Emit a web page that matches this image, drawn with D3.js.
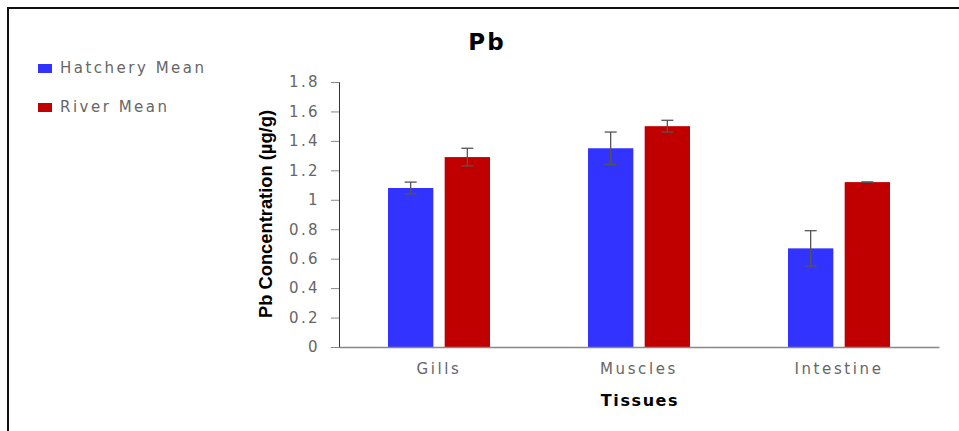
<!DOCTYPE html>
<html>
<head>
<meta charset="utf-8">
<script src="https://cdn.jsdelivr.net/npm/d3@7"></script>
<style>
  body { margin: 0; background: #fff; }
  svg { display: block; }
</style>
</head>
<body>
<script>

// data
var tissues = ["Gills", "Muscles", "Intestine"];
var series = ["Hatchery Mean", "River Mean"];
var hatchery = [1.08, 1.35, 0.67];
var river = [1.29, 1.50, 1.12];
var hatcheryErr = [0.04, 0.11, 0.12];
var riverErr = [0.06, 0.04, 0.0];
var colors = ["#3333ff", "#c00000"];

var width = 959, height = 431;

var svg = d3.select("body").append("svg")
  .attr("width", width)
  .attr("height", height);

// frame (top and left edges only)
svg.append("line").attr("x1", 8).attr("x2", width).attr("y1", 8).attr("y2", 8)
  .attr("stroke", "#111").attr("stroke-width", 2);
svg.append("line").attr("x1", 8).attr("x2", 8).attr("y1", 7).attr("y2", height)
  .attr("stroke", "#111").attr("stroke-width", 2);

var x = d3.scaleBand().domain(tissues).range([339, 939]);
var xs = d3.scaleBand().domain(series)
  .range([x.bandwidth() / 2 - 51, x.bandwidth() / 2 + 51])
  .paddingInner(0.2);
var y = d3.scaleLinear().domain([0, 1.8]).range([347, 82]);

var rows = tissues.map(function(t, i) {
  return [
    { tissue: t, s: series[0], v: hatchery[i], e: hatcheryErr[i], c: colors[0] },
    { tissue: t, s: series[1], v: river[i], e: riverErr[i], c: colors[1] }
  ];
});

// y axis
var yAxis = svg.append("g")
  .attr("transform", "translate(339,0)")
  .call(d3.axisLeft(y).ticks(9).tickSize(8).tickPadding(11)
    .tickFormat(function(d) { return String(+d.toFixed(1)); }));
yAxis.select(".domain").attr("stroke", "#333");
yAxis.selectAll(".tick line").attr("stroke", "#888");
yAxis.selectAll("text")
  .attr("fill", "#666")
  .style("font-family", "DejaVu Sans")
  .style("font-size", "15px")
  .style("letter-spacing", "2.4px");

// bars
var groups = svg.selectAll(".grp").data(rows).enter().append("g")
  .attr("class", "grp")
  .attr("transform", function(d) { return "translate(" + x(d[0].tissue) + ",0)"; });

groups.selectAll("rect").data(function(d) { return d; }).enter().append("rect")
  .attr("x", function(d) { return xs(d.s); })
  .attr("width", xs.bandwidth())
  .attr("y", function(d) { return y(d.v); })
  .attr("height", function(d) { return y(0) - y(d.v); })
  .attr("fill", function(d) { return d.c; });

// error bars
var err = groups.selectAll(".err").data(function(d) { return d; }).enter().append("g")
  .attr("class", "err")
  .attr("stroke", "#555")
  .attr("stroke-width", 1.3);
err.append("line")
  .attr("x1", function(d) { return xs(d.s) + xs.bandwidth() / 2; })
  .attr("x2", function(d) { return xs(d.s) + xs.bandwidth() / 2; })
  .attr("y1", function(d) { return y(d.v + d.e); })
  .attr("y2", function(d) { return y(d.v - d.e); });
err.selectAll(".cap").data(function(d) { return [d.v + d.e, d.v - d.e].map(function(k) { return { s: d.s, k: k }; }); })
  .enter().append("line")
  .attr("x1", function(d) { return xs(d.s) + xs.bandwidth() / 2 - 6; })
  .attr("x2", function(d) { return xs(d.s) + xs.bandwidth() / 2 + 6; })
  .attr("y1", function(d) { return y(d.k); })
  .attr("y2", function(d) { return y(d.k); });

// x axis
var xAxis = svg.append("g")
  .attr("transform", "translate(0," + y(0) + ")")
  .call(d3.axisBottom(x).tickSize(0).tickPadding(16));
xAxis.select(".domain").attr("stroke", "#888").attr("stroke-width", 1.5);
xAxis.selectAll("text")
  .attr("fill", "#666")
  .style("font-family", "DejaVu Sans")
  .style("font-size", "15px")
  .style("letter-spacing", "2.6px");

// titles
svg.append("text")
  .attr("x", 487).attr("y", 50)
  .attr("text-anchor", "middle")
  .style("font-family", "DejaVu Sans")
  .style("font-weight", "bold")
  .style("font-size", "23px")
  .style("letter-spacing", "2px")
  .text("Pb");

svg.append("text")
  .attr("x", 640).attr("y", 406)
  .attr("text-anchor", "middle")
  .style("font-family", "DejaVu Sans")
  .style("font-weight", "bold")
  .style("font-size", "16px")
  .style("letter-spacing", "1.6px")
  .text("Tissues");

svg.append("text")
  .attr("transform", "translate(272,214) rotate(-90)")
  .attr("text-anchor", "middle")
  .attr("textLength", 208)
  .attr("lengthAdjust", "spacingAndGlyphs")
  .style("font-family", "Liberation Sans Narrow, Liberation Sans")
  .style("font-weight", "bold")
  .style("font-size", "18px")
  .text("Pb Concentration (µg/g)");

// legend
var legend = svg.selectAll(".leg").data(series).enter().append("g")
  .attr("class", "leg")
  .attr("transform", function(d, i) { return "translate(38," + (64 + i * 39) + ")"; });
legend.append("rect")
  .attr("width", 14).attr("height", 9)
  .attr("fill", function(d, i) { return colors[i]; });
legend.append("text")
  .attr("x", 22).attr("y", 9)
  .attr("fill", "#666")
  .style("font-family", "DejaVu Sans")
  .style("font-size", "15px")
  .style("letter-spacing", "2.5px")
  .text(function(d) { return d; });

</script>
</body>
</html>
